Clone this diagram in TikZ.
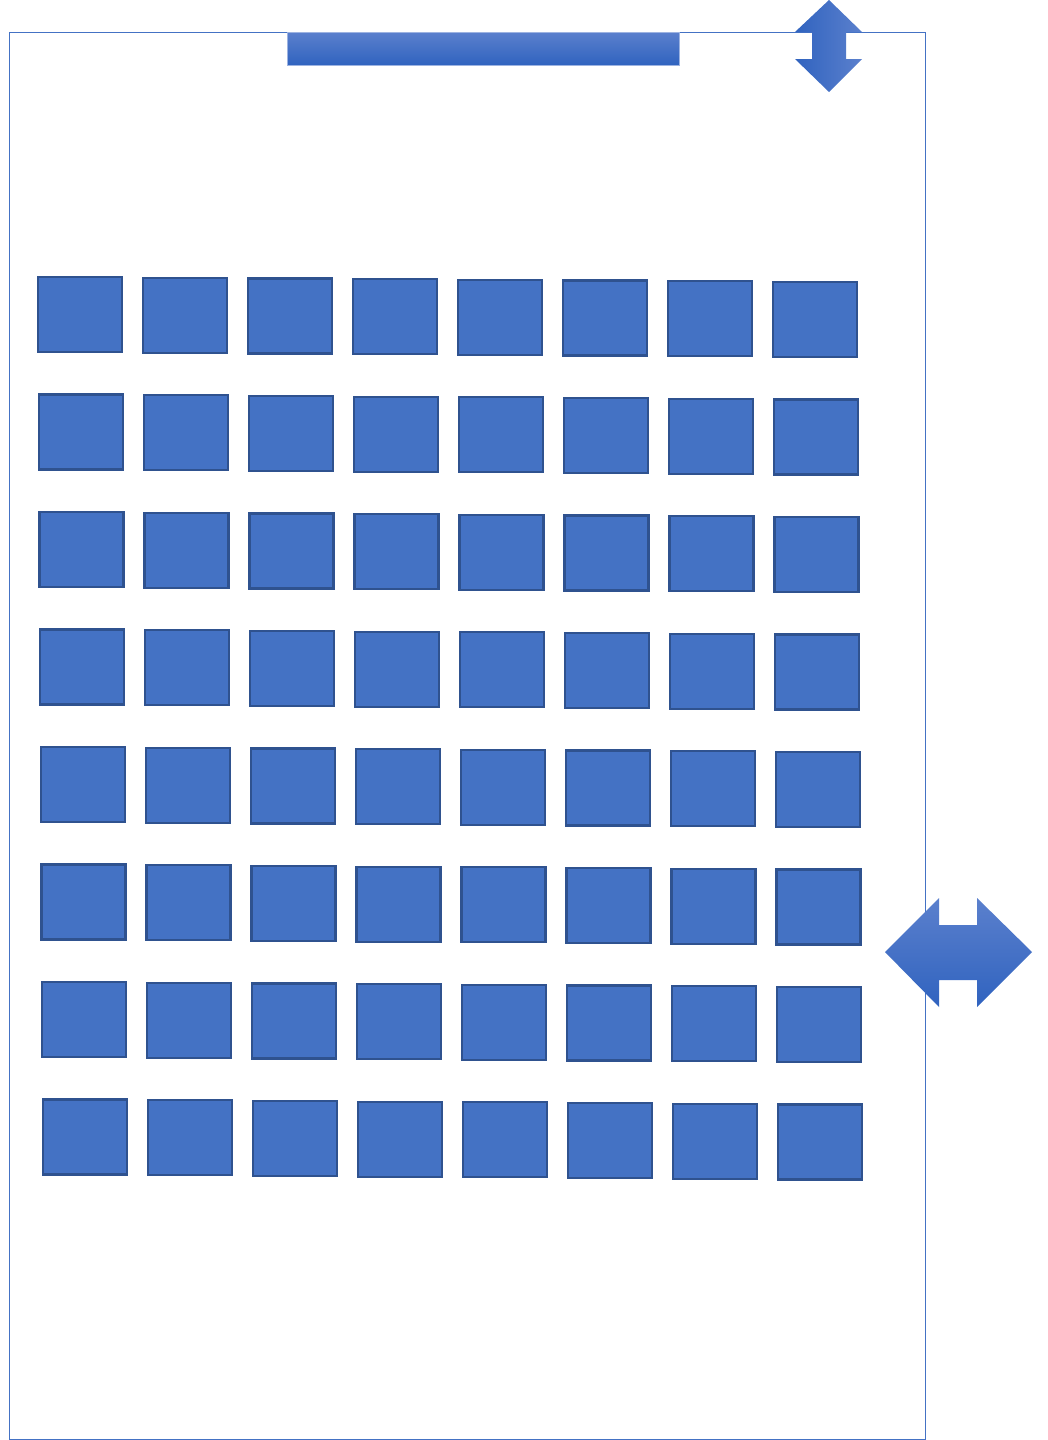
\documentclass[tikz,border=0pt]{standalone}
\usepackage{xcolor}
\usepackage{tikz}
\definecolor{seatblue}{HTML}{4472C4}
\definecolor{seatedge}{HTML}{2F528F}
\definecolor{lightblue}{HTML}{5B80CD}
\definecolor{darkblue}{HTML}{3063BF}
\tikzset{
  seat/.style={draw=seatedge,fill=seatblue,line width=1.1pt,minimum width=42pt,minimum height=37.5pt,inner sep=0pt},
  frame/.style={draw=seatblue,line width=0.5pt}
}

\begin{document}
\begin{tikzpicture}[x=0.5pt,y=-0.5pt]
\useasboundingbox(0,0)rectangle(1048,1440);
% room outline
\draw[frame](9,32)rectangle(925,1439);
% screen bar
\shade[top color=lightblue,bottom color=darkblue,draw=lightblue!60,line width=0.3pt](287,32)rectangle(679,65);
% seats
\foreach \r in {0,...,7}{
  \foreach \c in {0,...,7}{
    \node[seat](s-\r-\c)at({80+0.7*\r+105*\c},{314.5+117.5*\r+0.7*\c}){};
  }
}
% up/down arrow
\shade[left color=darkblue,right color=lightblue]
  (829,0)--(862,32)--(846,32)--(846,59)--(862,59)--(829,92)--(795,59)--(812,59)--(812,32)--(795,32)--cycle;
% left/right arrow
\shade[top color=lightblue,bottom color=darkblue]
  (885,952)--(939,898)--(939,925)--(977,925)--(977,898)--(1032,952)--(977,1007)--(977,980)--(939,980)--(939,1007)--cycle;
\end{tikzpicture}
\end{document}
